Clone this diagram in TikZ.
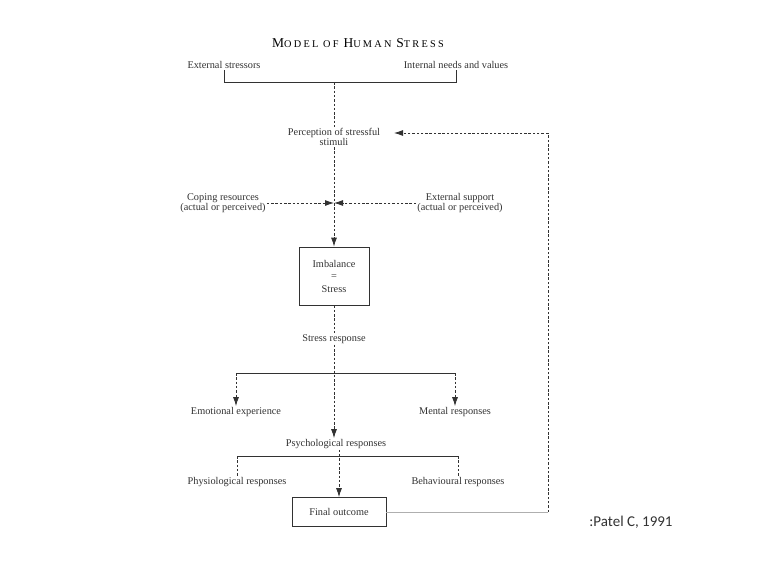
\documentclass[tikz,border=0pt]{standalone}
\usepackage{fontspec}
\setmainfont{Liberation Serif}
\newfontfamily\calibrifont{Carlito}
\newfontfamily\titlefont[LetterSpace=22]{Liberation Serif}
\usetikzlibrary{arrows.meta, positioning, calc}
\definecolor{inkgray}{RGB}{50,50,50}
\definecolor{feedgray}{RGB}{175,175,175}
\newcommand{\bigc}[1]{{\fontsize{13.5}{14}\selectfont #1}}

\begin{document}
\begin{tikzpicture}[x=1pt, y=-1pt,
  lbl/.style={font=\fontsize{10.3}{10.5}\selectfont, text=inkgray, inner sep=1pt, align=center},
  dline/.style={draw=inkgray, line width=0.8pt, dash pattern=on 2.5pt off 1.8pt},
  sline/.style={draw=inkgray, line width=0.8pt},
  arr/.style={-{Latex[length=9pt,width=6pt]}},
  stressbox/.style={lbl, draw=inkgray, line width=0.8pt, minimum width=70pt, minimum height=58pt}]
\useasboundingbox (0,0) rectangle (767,581);

% Title and inputs
\node[lbl, font=\titlefont\fontsize{10.3}{12}\selectfont, text=black] (title) at (358,43) {\bigc{M}ODEL OF \bigc{H}UMAN \bigc{S}TRESS};
\node[lbl] (ext) at (224,65) {External stressors};
\node[lbl] (int) at (456,65) {Internal needs and values};
\coordinate (top) at (334,82);
\draw[sline] (ext.south) -- (ext.south |- top) -- (int.south |- top) -- (int.south);

% Perception and moderators
\node[lbl] (perc) at (334,137) {Perception of stressful\\stimuli};
\node[lbl] (cop) at (223,203) {Coping resources\\(actual or perceived)};
\node[lbl] (sup) at (460,203) {External support\\(actual or perceived)};
\coordinate (mid) at (334,203);
\draw[dline] (top) -- (perc.north);
\draw[dline] (perc.south) -- (mid);
\draw[dline, arr] (cop.east) -- (mid);
\draw[dline, arr] (sup.west) -- (mid);

% Imbalance
\node[stressbox] (imb) at (334,276) {Imbalance\\[2pt]=\\[2pt]Stress};
\draw[dline, arr] (mid) -- (imb.north);
\node[lbl] (resp) at (334,339) {Stress response};
\draw[dline] (imb.south) -- (resp.north);

% First split
\coordinate (split) at (334,373);
\node[lbl] (emo) at (236,412) {Emotional experience};
\node[lbl] (men) at (455,412) {Mental responses};
\node[lbl] (psy) at (336,444) {Psychological responses};
\draw[sline] (emo.north |- split) -- (men.north |- split);
\draw[dline, arr] (emo.north |- split) -- (emo.north);
\draw[dline, arr] (men.north |- split) -- (men.north);
\draw[dline, arr] (resp.south) -- (resp.south |- psy.north);

% Second split
\coordinate (split2) at (336,456);
\node[lbl] (phys) at (237,482) {Physiological responses};
\node[lbl] (beh) at (458,482) {Behavioural responses};
\draw[sline] (phys.north |- split2) -- (beh.north |- split2);
\draw[dline] (phys.north |- split2) -- (phys.north);
\draw[dline] (beh.north |- split2) -- (beh.north);

% Outcome and feedback
\node[lbl, draw=inkgray, line width=0.8pt, minimum width=94pt, minimum height=29pt] (fin) at (339,512) {Final outcome};
\draw[dline, arr] (psy.south -| fin.north) -- (fin.north);
\coordinate (fbbot) at (548,512);
\coordinate (fbtop) at (548,133);
\coordinate (fbend) at (394,133);
\draw[feedgray, line width=0.8pt] (fin.east) -- (fbbot);
\draw[dline] (fbbot) -- (fbtop);
\draw[dline, arr] (fbtop) -- (fbend);

% Source
\node[font=\calibrifont\fontsize{15}{17}\selectfont, text=inkgray] (src) at (631,522) {:Patel C, 1991};
\end{tikzpicture}
\end{document}
